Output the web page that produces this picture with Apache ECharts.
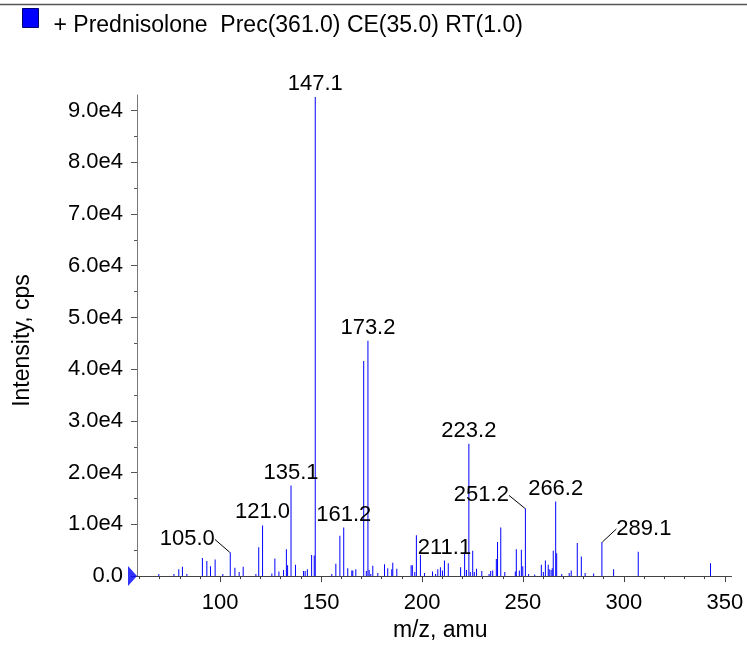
<!DOCTYPE html>
<html>
<head>
<meta charset="utf-8">
<script src="https://cdn.jsdelivr.net/npm/echarts@6/dist/echarts.min.js"></script>
<style>
html,body{margin:0;padding:0;background:#fff;}
#chart{width:747px;height:647px;}
</style>
</head>
<body>
<div id="chart"></div>
<script>
// ---- data ----
const seriesName = '+ Prednisolone  Prec(361.0) CE(35.0) RT(1.0)';
const mz = [
  69.6, 77.1, 79.5, 81.3, 83.5, 91.2, 93.4, 95.2, 97.5, 101.3,
  105.0, 107.3, 109.4, 111.4, 117.7, 119.1, 121.0, 125.6, 127.1, 129.1,
  131.4, 132.8, 133.4, 135.1, 137.3, 141.3, 142.1, 143.2, 145.3, 146.6,
  147.1, 155.3, 157.3, 159.3, 161.2, 163.2, 165.2, 165.7, 167.2, 171.1,
  172.4, 173.2, 173.8, 174.6, 175.6, 178.1, 181.4, 183.0, 185.0, 185.5,
  187.5, 194.6, 195.2, 196.4, 197.2, 199.2, 201.2, 205.2, 206.7, 207.8,
  209.1, 210.1, 211.1, 213.0, 219.1, 221.1, 222.0, 223.2, 223.9, 225.1,
  225.9, 227.0, 229.6, 233.2, 234.0, 235.0, 236.8, 237.4, 239.0, 241.0,
  246.2, 246.7, 248.2, 249.2, 249.9, 251.2, 252.8, 255.8, 259.1, 260.1,
  261.1, 262.5, 263.0, 263.9, 264.5, 265.0, 266.2, 266.7, 269.2, 272.9,
  273.9, 276.9, 278.9, 280.8, 285.0, 289.1, 294.9, 307.1, 342.9
];
const intensity = [
  400, 400, 1300, 1800, 400, 3500, 2900, 1900, 3200, 400,
  4600, 1600, 800, 1800, 400, 5600, 9800, 500, 3400, 900,
  1200, 5200, 2100, 17500, 2200, 1000, 1000, 1300, 4100, 4000,
  92600, 400, 2400, 7800, 9400, 1500, 1100, 1100, 1300, 41600,
  1000, 45500, 1200, 400, 2000, 600, 2300, 1500, 1300, 2600,
  1400, 2100, 2100, 800, 7900, 4100, 600, 900, 400, 1300,
  1700, 1100, 3000, 2500, 1700, 4600, 1200, 25600, 800, 4900,
  800, 1400, 1000, 400, 1000, 1100, 3300, 6600, 9400, 800,
  900, 5200, 1100, 5100, 1900, 13100, 400, 300, 2200, 800,
  3000, 2200, 1300, 1200, 1500, 4900, 14400, 4400, 400, 600,
  1100, 6400, 3800, 600, 500, 6600, 1300, 4700, 2500
];
const labeledPeaks = [105.0, 121.0, 135.1, 147.1, 161.2, 173.2, 211.1, 223.2, 251.2, 266.2, 289.1];
const yTickValues = [0, 10000, 20000, 30000, 40000, 50000, 60000, 70000, 80000, 90000];
const yMinorValues = [5000, 15000, 25000, 35000, 45000, 55000, 65000, 75000, 85000];
const xTickValues = [100, 150, 200, 250, 300, 350];
const xMinorValues = [60, 70, 80, 90, 110, 120, 130, 140, 160, 170, 180, 190, 210, 220, 230, 240,
  260, 270, 280, 290, 310, 320, 330, 340];
const xRange = [58.8, 353.3];
const yMax = 93000;

// ---- label displacement for peaks whose labels sit beside the bar ----
const labelShift = { '105.0': [-43, 0], '251.2': [-44, 0], '289.1': [42, 0] };

const FONT = 'Liberation Sans, Arial, Helvetica, sans-serif';

const barData = mz.map(function (m, i) {
  const key = m.toFixed(1);
  const isLabeled = labeledPeaks.indexOf(m) >= 0;
  const item = { value: [m, intensity[i]] };
  if (isLabeled) {
    item.label = { show: true };
    if (labelShift[key]) {
      item.labelLine = { show: true, lineStyle: { color: '#000', width: 1 } };
    }
  }
  return item;
});

const chart = echarts.init(document.getElementById('chart'), null, { renderer: 'canvas' });
chart.setOption({
  animation: false,
  backgroundColor: '#fff',
  textStyle: { fontFamily: FONT },
  graphic: [
    { type: 'line', shape: { x1: 0, y1: 4.5, x2: 747, y2: 4.5 }, style: { stroke: '#555', lineWidth: 1.5 } }
  ],
  legend: {
    data: [seriesName],
    left: 22, top: 8, padding: 0,
    icon: 'rect',
    itemWidth: 16, itemHeight: 19,
    itemStyle: { borderColor: '#00006e', borderWidth: 1 },
    formatter: function (name) { return '{t|' + name + '}'; },
    textStyle: {
      fontSize: 23, color: '#000', fontFamily: FONT,
      rich: { t: { fontSize: 23, color: '#000', fontFamily: FONT, padding: [15, 0, 0, 10] } }
    },
    selectedMode: false
  },
  grid: { left: 137, right: 15.5, top: 95, bottom: 62, containLabel: false },
  xAxis: [
    {
      type: 'value', min: xRange[0], max: xRange[1],
      name: 'm/z, amu', nameLocation: 'middle', nameGap: 35,
      nameTextStyle: { fontSize: 23, color: '#000', fontFamily: FONT, padding: [0, 0, 0, 12] },
      axisLine: { show: true, lineStyle: { color: '#444', width: 1 } },
      axisTick: { show: true, length: 6, customValues: xTickValues, lineStyle: { color: '#444' } },
      axisLabel: { customValues: xTickValues, fontSize: 22, color: '#000', margin: 16, fontFamily: FONT },
      splitLine: { show: false }
    },
    {
      type: 'value', min: xRange[0], max: xRange[1], position: 'bottom',
      axisLine: { show: false },
      axisTick: { show: true, length: 3, customValues: xMinorValues, lineStyle: { color: '#444' } },
      axisLabel: { show: false },
      splitLine: { show: false }
    }
  ],
  yAxis: [
    {
      type: 'value', min: 0, max: yMax,
      name: 'Intensity, cps', nameLocation: 'middle', nameGap: 103,
      nameTextStyle: { fontSize: 23, color: '#000', fontFamily: FONT, padding: [0, 10, 0, 0] },
      axisLine: { show: true, lineStyle: { color: '#777', width: 1 } },
      axisTick: { show: true, length: 6, customValues: yTickValues, lineStyle: { color: '#555' } },
      axisLabel: {
        customValues: yTickValues, fontSize: 22, color: '#000', margin: 14, fontFamily: FONT,
        formatter: function (v) { return v === 0 ? '0.0' : (v / 10000).toFixed(1) + 'e4'; }
      },
      splitLine: { show: false }
    },
    {
      type: 'value', min: 0, max: yMax, position: 'left',
      axisLine: { show: false },
      axisTick: { show: true, length: 3, customValues: yMinorValues, lineStyle: { color: '#555' } },
      axisLabel: { show: false },
      splitLine: { show: false }
    }
  ],
  series: [
    {
      name: seriesName,
      type: 'bar',
      xAxisIndex: 0, yAxisIndex: 0,
      barWidth: 1,
      itemStyle: { color: '#0000ff' },
      label: {
        show: false, position: 'top', distance: 2,
        fontSize: 22, color: '#000', fontFamily: FONT,
        formatter: function (p) { return p.value[0].toFixed(1); }
      },
      labelLayout: function (params) {
        const key = mz[params.dataIndex].toFixed(1);
        if (labelShift[key]) return { dx: labelShift[key][0], dy: labelShift[key][1] };
        return {};
      },
      emphasis: { disabled: true },
      data: barData
    },
    {
      name: 'threshold',
      type: 'scatter',
      xAxisIndex: 0, yAxisIndex: 0,
      clip: false, silent: true,
      symbol: 'triangle', symbolSize: [20, 9], symbolRotate: -90, symbolOffset: [-4.5, 0],
      itemStyle: { color: '#0000ff' },
      data: [[xRange[0], 0]]
    }
  ]
});
</script>
</body>
</html>
